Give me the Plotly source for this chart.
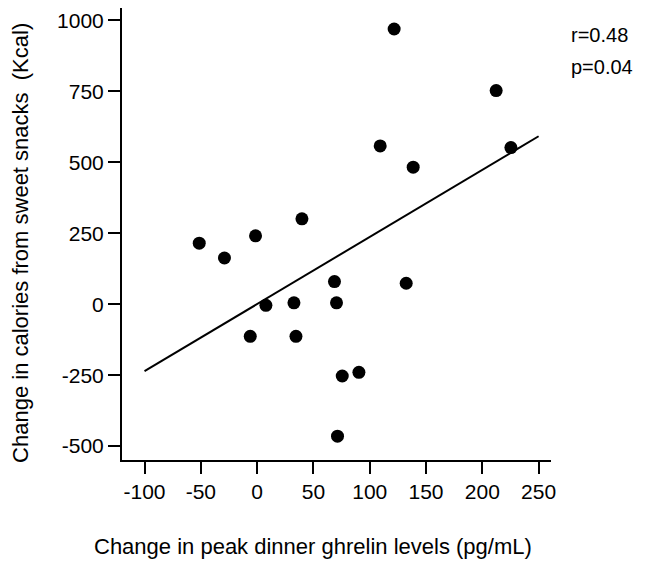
import plotly.graph_objects as go

# Ghrelin change (pg/mL) vs. change in sweet-snack calories (Kcal)
ghrelin_change = [121.7, 212.3, 225.4, 109.3, 138.6, 39.8, -51.4, -29.0, -1.4, 7.8,
                  32.7, -6.1, 34.5, 68.7, 70.5, 132.4, 75.6, 90.4, 71.4]
calorie_change = [970, 753, 552, 558, 483, 301, 215, 163, 241, -4,
                  5, -113, -113, 80, 5, 74, -253, -240, -465]

# regression line end points
fit_x = [-100, 250]
fit_y = [-236, 592]

x_ticks = [-100, -50, 0, 50, 100, 150, 200, 250]
y_ticks = [-500, -250, 0, 250, 500, 750, 1000]

FONT = "Liberation Sans, Arial, sans-serif"

fig = go.Figure()

fig.add_trace(go.Scatter(
    x=fit_x, y=fit_y,
    mode="lines",
    line=dict(color="black", width=2),
    showlegend=False,
))

fig.add_trace(go.Scatter(
    x=ghrelin_change, y=calorie_change,
    mode="markers",
    marker=dict(color="black", size=13),
    showlegend=False,
))

axis_style = dict(
    showline=True, linecolor="black", linewidth=2,
    ticks="outside", ticklen=12, tickwidth=2, tickcolor="black",
    showgrid=False, zeroline=False,
    tickfont=dict(family=FONT, size=21, color="black"),
)

# plain hyphen for negatives, like the original
fig.update_xaxes(range=[-120, 261], tickvals=x_ticks,
                 ticktext=[str(v) for v in x_ticks], **axis_style)
fig.update_yaxes(range=[-549, 1044], tickvals=y_ticks,
                 ticktext=[str(v) for v in y_ticks], **axis_style)

# axis titles
fig.add_annotation(
    text="Change in peak dinner ghrelin levels (pg/mL)",
    xref="paper", yref="paper", x=0.446, y=-0.192,
    xanchor="center", yanchor="middle",
    showarrow=False, font=dict(family=FONT, size=22, color="black"),
)
fig.add_annotation(
    text="Change in calories from sweet snacks  (Kcal)",
    xref="paper", yref="paper", x=-0.238, y=0.48, textangle=-90,
    xanchor="center", yanchor="middle",
    showarrow=False, font=dict(family=FONT, size=22, color="black"),
)

# stats
for txt, yy in [("r=0.48", 0.940), ("p=0.04", 0.869)]:
    fig.add_annotation(
        text=txt, xref="paper", yref="paper", x=1.042, y=yy,
        xanchor="left", yanchor="middle", showarrow=False,
        font=dict(family=FONT, size=20, color="black"),
    )

fig.update_layout(
    width=645, height=571,
    margin=dict(l=114, r=102, t=0, b=119),
    plot_bgcolor="white", paper_bgcolor="white",
    font=dict(family=FONT, color="black"),
)

fig.write_html("out.html")
